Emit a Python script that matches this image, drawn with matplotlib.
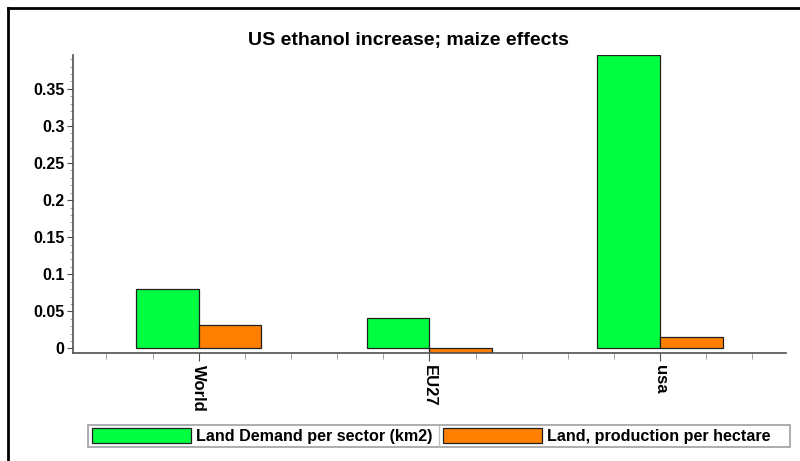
import matplotlib.pyplot as plt
from matplotlib.lines import Line2D
from matplotlib.patches import Rectangle
from matplotlib.ticker import MultipleLocator, FormatStrFormatter
import numpy as np

plt.rcParams['font.family'] = ['Liberation Sans', 'DejaVu Sans']
plt.rcParams['font.weight'] = 'bold'

# DATA
regions = ["World", "EU27", "usa"]
land_demand = [0.0798, 0.041, 0.3956]
land_per_hectare = [0.0317, -0.0057, 0.0155]
series_names = ["Land Demand per sector (km2)", "Land, production per hectare"]

green = "#00ff40"
orange = "#ff8000"
axis_grey = "#505050"
W, H = 800, 461

fig = plt.figure(figsize=(8, 4.61), dpi=100)
ax = fig.add_axes([73 / W, 1 - 352.7 / H, (786 - 73) / W, (352.7 - 55) / H])

x = np.arange(len(regions))
w = 0.272
b1 = ax.bar(x - w / 2, land_demand, w, color=green, edgecolor="#202020", linewidth=0.9)
b2 = ax.bar(x + w / 2, land_per_hectare, w, color=orange, edgecolor="#202020", linewidth=0.9)

ax.set_xlim(-0.545, 2.546)
ax.set_ylim(min(land_per_hectare), max(land_demand))

# AXES STYLE
for side in ["top", "right"]:
    ax.spines[side].set_visible(False)
for side in ["left", "bottom"]:
    ax.spines[side].set_color(axis_grey)
    ax.spines[side].set_linewidth(1.2)

ax.set_xticks(x)
ax.set_xticklabels(regions, rotation=-90, fontsize=12, fontweight="bold")
ax.xaxis.set_minor_locator(MultipleLocator(0.2))
ax.yaxis.set_major_locator(MultipleLocator(0.05))
ax.yaxis.set_minor_locator(MultipleLocator(0.01))
ax.yaxis.set_major_formatter(FormatStrFormatter("%g"))
ax.tick_params(axis="y", which="major", length=4, color=axis_grey, labelsize=11.5, pad=2)
ax.tick_params(axis="y", which="minor", length=2.5, color="#909090")
ax.tick_params(axis="x", which="major", length=6, color=axis_grey, pad=3)
ax.tick_params(axis="x", which="minor", length=4, color="#909090")
for lab in ax.get_yticklabels():
    lab.set_fontweight("bold")

fig.text(408 / W, 1 - 40 / H, "US ethanol increase; maize effects",
         ha="center", va="center", fontsize=14, fontweight="bold")

# LEGEND: two equal cells inside a grey box
box_l, box_r, box_t, box_b = 88, 790, 425, 447
fig.add_artist(Rectangle((box_l / W, 1 - box_b / H), (box_r - box_l) / W, (box_b - box_t) / H,
                         facecolor="white", edgecolor="#a0a0a0", linewidth=1.2))
cell_w = (box_r - box_l) / len(series_names)
for i, (name, col) in enumerate(zip(series_names, [green, orange])):
    x0 = box_l + i * cell_w
    fig.add_artist(Rectangle(((x0 + 4) / W, 1 - 443 / H), 99 / W, 15 / H,
                             facecolor=col, edgecolor="#202020", linewidth=0.9))
    fig.text((x0 + 108) / W, 1 - 436 / H, name, ha="left", va="center",
             fontsize=11.6, fontweight="bold")
    if i > 0:
        fig.add_artist(Line2D([x0 / W, x0 / W], [1 - (box_t + 1) / H, 1 - (box_b - 1) / H],
                              color="#c0c0c0", linewidth=1))

# outer frame (top and left edges)
fig.add_artist(Line2D([8 / W, 8 / W], [0, 1 - 8 / H], color="black", linewidth=2))
fig.add_artist(Line2D([8 / W, 1], [1 - 8 / H, 1 - 8 / H], color="black", linewidth=2))

fig.savefig("out.png", dpi=100)
